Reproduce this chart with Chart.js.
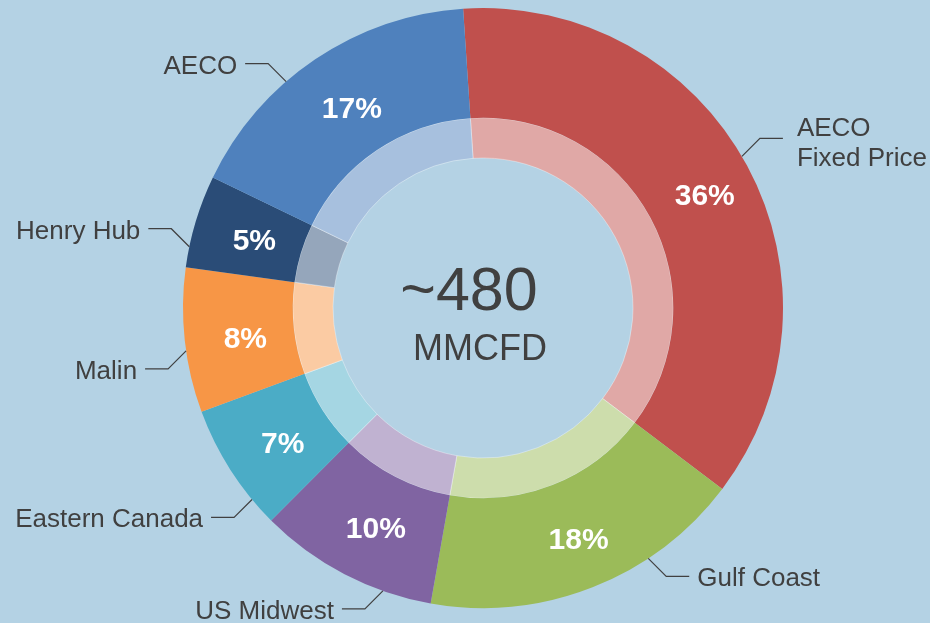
<!DOCTYPE html>
<html>
<head>
<meta charset="utf-8">
<script src="https://cdn.jsdelivr.net/npm/chart.js@4/dist/chart.umd.min.js"></script>
<style>
  html, body { margin: 0; padding: 0; background: #B4D2E4; }
  #wrap { width: 930px; height: 623px; position: relative; }
</style>
</head>
<body>
<div id="wrap"><canvas id="chart" width="930" height="623"></canvas></div>
<script>
// data (share of ~480 MMCFD)
let categories = [['AECO', 'Fixed Price'], 'Gulf Coast', 'US Midwest', 'Eastern Canada', 'Malin', 'Henry Hub', 'AECO'];
let shares = [36.4, 17.5, 9.7, 6.9, 7.8, 5.0, 16.8];
let centerValue = '~480';
let centerUnit = 'MMCFD';

// styling
let colors = ['#C0504D', '#9BBB59', '#8064A2', '#4BACC6', '#F79646', '#2A4C77', '#4F81BD'];
let leaderSkew = [2, 12, 8, 7, 2, 5, 7];   // degrees the leader line sits before the slice middle
const textColor = '#404040';
const font = '"Liberation Sans", Arial, sans-serif';

function lighten(hex, amt){
    let n = parseInt(hex.slice(1), 16);
    let r = (n >> 16) & 255, g = (n >> 8) & 255, b = n & 255;
    r = Math.round(r + (255 - r) * amt);
    g = Math.round(g + (255 - g) * amt);
    b = Math.round(b + (255 - b) * amt);
    return `rgb(${r},${g},${b})`;
}

const labelsPlugin = {
    id: 'ringLabels',
    afterDraw(chart){
        const ctx = chart.ctx;
        const meta = chart.getDatasetMeta(0);
        ctx.save();
        meta.data.forEach((arc, i) => {
            const p = arc.getProps(['x', 'y', 'startAngle', 'endAngle', 'innerRadius', 'outerRadius'], true);
            const mid = (p.startAngle + p.endAngle) / 2;

            // percent inside the outer ring
            const rm = (p.innerRadius + p.outerRadius) / 2;
            ctx.fillStyle = '#ffffff';
            ctx.font = 'bold 30px ' + font;
            ctx.textAlign = 'center';
            ctx.textBaseline = 'alphabetic';
            ctx.fillText(Math.round(shares[i]) + '%', p.x + 6 + rm * Math.cos(mid), p.y + rm * Math.sin(mid) + 13);

            // leader line + category name
            const a = mid - leaderSkew[i] * Math.PI / 180;
            const ax = p.x + p.outerRadius * Math.cos(a);
            const ay = p.y + p.outerRadius * Math.sin(a);
            const side = Math.cos(a) >= 0 ? 1 : -1;
            const vert = Math.sin(a) >= 0 ? 1 : -1;
            const ex = ax + side * 18, ey = ay + vert * 18;
            const hx = ex + side * 23;
            ctx.strokeStyle = textColor;
            ctx.lineWidth = 1.2;
            ctx.beginPath();
            ctx.moveTo(ax, ay);
            ctx.lineTo(ex, ey);
            ctx.lineTo(hx, ey);
            ctx.stroke();

            const lines = Array.isArray(categories[i]) ? categories[i] : [categories[i]];
            ctx.fillStyle = textColor;
            ctx.font = '26px ' + font;
            ctx.textAlign = side > 0 ? 'left' : 'right';
            const lh = 30;
            const gap = lines.length > 1 ? 14 : 8;
            lines.forEach((t, k) => {
                ctx.fillText(t, hx + side * gap, ey + 10 + (k - (lines.length - 1) / 2) * lh + (lines.length > 1 ? 3 : 0));
            });
        });

        // centre text
        const c = meta.data[0];
        ctx.fillStyle = textColor;
        ctx.textAlign = 'center';
        ctx.textBaseline = 'alphabetic';
        ctx.font = '61px ' + font;
        ctx.fillText(centerValue, c.x - 14, c.y + 2);
        ctx.font = '36px ' + font;
        ctx.fillText(centerUnit, c.x - 3, c.y + 52);
        ctx.restore();
    }
};

function createChart(){
    new Chart(document.getElementById('chart'), {
        type: 'doughnut',
        data: {
            labels: categories,
            datasets: [{
                data: shares,
                backgroundColor: colors,
                borderWidth: 0,
                weight: 109
            }, {
                data: shares,
                backgroundColor: colors.map(c => lighten(c, 0.5)),
                borderColor: 'rgba(255,255,255,0.35)',
                borderWidth: 1,
                weight: 40
            }]
        },
        options: {
            responsive: false,
            animation: false,
            rotation: -3.8,
            cutout: '50%',
            layout: { padding: { left: 183, right: 147, top: 8, bottom: 15 } },
            plugins: {
                legend: { display: false },
                tooltip: { enabled: false }
            }
        },
        plugins: [labelsPlugin]
    });
}

createChart();
</script>
</body>
</html>
